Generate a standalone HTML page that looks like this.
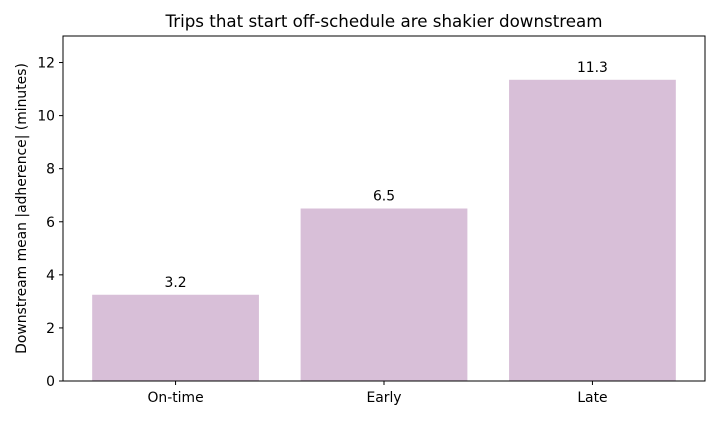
<!DOCTYPE html>
<html><head><meta charset="utf-8"><style>
body{margin:0;background:#fff;}
svg text{font-family:"DejaVu Sans","Liberation Sans",sans-serif;fill:#000;}
</style></head><body>
<svg id="chart" width="720" height="420"></svg>
<script>
const categories = ["On-time","Early","Late"];
const values = [3.25, 6.5, 11.35];
const valueLabels = ["3.2","6.5","11.3"];
const yTicks = [0,2,4,6,8,10,12];

const NS="http://www.w3.org/2000/svg";
const svg=document.getElementById('chart');
const L=63,R=705,T=36,B=381;
const yMin=0,yMax=13;
const xMin=-0.54,xMax=categories.length-1+0.54;
const y=v=>B-(v-yMin)/(yMax-yMin)*(B-T);
const x=i=>L+(i-xMin)/(xMax-xMin)*(R-L);
const bw=0.8*(R-L)/(xMax-xMin);
function el(tag,attrs,parent){const e=document.createElementNS(NS,tag);for(const k in attrs)e.setAttribute(k,attrs[k]);(parent||svg).appendChild(e);return e;}

const title=el('text',{x:(L+R)/2,y:27,'text-anchor':'middle','font-size':16.7});
title.textContent="Trips that start off-schedule are shakier downstream";



values.forEach((v,i)=>{
  const r=el('rect',{x:x(i)-bw/2,y:y(v),width:bw,height:y(0)-y(v),fill:'#d8bfd8'});
  
  
  const t=el('text',{x:x(i),y:y(v)-8,'text-anchor':'middle','font-size':13.9});
  t.textContent=valueLabels[i];
  
  
  el('line',{x1:x(i),x2:x(i),y1:B,y2:B+4,stroke:'#000'});
  const c=el('text',{x:x(i),y:B+21,'text-anchor':'middle','font-size':13.9});
  c.textContent=categories[i];
  
  
});

yTicks.forEach(v=>{
  el('line',{x1:L-4,x2:L,y1:y(v),y2:y(v),stroke:'#000'});
  const t=el('text',{x:L-8,y:y(v)+5,'text-anchor':'end','font-size':13.9});
  t.textContent=v;
  
  
});

const frame=el('rect',{x:L,y:T,width:R-L,height:B-T,fill:'none',stroke:'#000','stroke-width':1});



const yl=el('text',{x:0,y:0,'text-anchor':'middle','font-size':13.9,transform:`translate(26,${(T+B)/2}) rotate(-90)`});
yl.textContent="Downstream mean |adherence| (minutes)";


</script>
</body></html>
